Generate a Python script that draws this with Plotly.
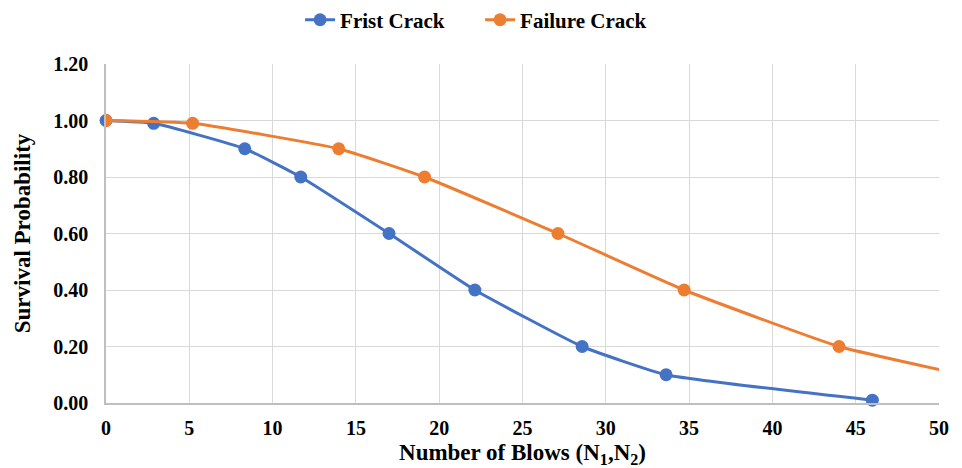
import plotly.graph_objects as go

first_x = [0, 2.86, 8.33, 11.69, 16.99, 22.14, 28.58, 33.62, 46.0]
first_y = [1.00, 0.99, 0.90, 0.80, 0.60, 0.40, 0.20, 0.10, 0.01]
fail_x = [0, 5.2, 13.97, 19.12, 27.13, 34.7, 44.0, 51.5, 60.0]
fail_y = [1.00, 0.99, 0.90, 0.80, 0.60, 0.40, 0.20, 0.10, 0.01]

x_ticks = [0, 5, 10, 15, 20, 25, 30, 35, 40, 45, 50]
y_ticks = [0.0, 0.2, 0.4, 0.6, 0.8, 1.0, 1.2]

FONT = "'Liberation Serif', 'Times New Roman', 'DejaVu Serif', serif"

fig = go.Figure()
fig.add_trace(go.Scatter(
    x=first_x, y=first_y, name="<b>Frist Crack</b>", mode="lines+markers",
    line=dict(color="#4472C4", width=3, shape="spline", smoothing=0.4),
    marker=dict(size=13, color="#4472C4"), cliponaxis=False,
))
fig.add_trace(go.Scatter(
    x=fail_x, y=fail_y, name="<b>Failure Crack</b>", mode="lines+markers",
    line=dict(color="#ED7D31", width=3, shape="spline", smoothing=0.4),
    marker=dict(size=13, color="#ED7D31"),
))

fig.update_layout(
    width=962, height=468,
    margin=dict(l=106, r=23, t=64, b=65, autoexpand=False),
    paper_bgcolor="white", plot_bgcolor="white",
    font=dict(family=FONT, color="black"),
    legend=dict(orientation="h", x=0.233, xanchor="left", y=0.957, yanchor="middle",
                yref="container", font=dict(family=FONT, size=21, color="black"),
                entrywidth=135, entrywidthmode="pixels", traceorder="normal"),
    xaxis=dict(range=[0, 50], tickvals=x_ticks, ticktext=[f"<b>{v}</b>" for v in x_ticks],
               showgrid=True, gridcolor="#d9d9d9", gridwidth=1.3,
               showline=True, linecolor="#bfbfbf", linewidth=1.5,
               zeroline=False, ticks="", ticklen=0, ticklabelstandoff=6,
               automargin=False,
               tickfont=dict(family=FONT, size=20, color="black"),
               title=dict(text="<b>Number of Blows (N<sub>1</sub>,N<sub>2</sub>)</b>",
                          font=dict(family=FONT, size=23, color="black"), standoff=10)),
    yaxis=dict(range=[0, 1.2], tickvals=y_ticks, ticktext=[f"<b>{v:.2f}</b>" for v in y_ticks],
               showgrid=True, gridcolor="#d9d9d9", gridwidth=1.3,
               showline=True, linecolor="#bfbfbf", linewidth=1.5,
               zeroline=False, ticks="", ticklen=0, ticklabelstandoff=12,
               automargin=False,
               tickfont=dict(family=FONT, size=20, color="black"),
               title=dict(text="<b>Survival Probability</b>",
                          font=dict(family=FONT, size=23, color="black"), standoff=16)),
)

fig.write_html("out.html")
